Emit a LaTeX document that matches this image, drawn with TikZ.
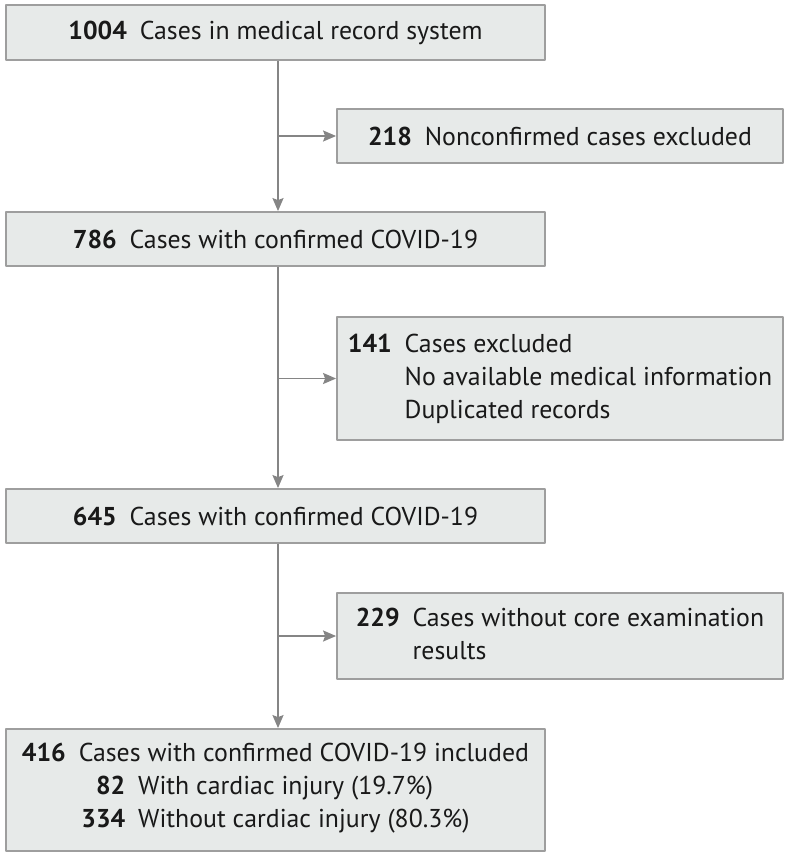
\documentclass[tikz,border=0pt]{standalone}
\usepackage{fontspec}
\setmainfont{PT Sans}
\usepackage{tikz}
\usetikzlibrary{arrows}
\usetikzlibrary{arrows.meta}
\definecolor{wwwwww}{rgb}{0.52,0.52,0.52}
\definecolor{sqsqsq}{rgb}{0.62,0.62,0.62}
\definecolor{eeebea}{rgb}{0.906,0.918,0.914}
\definecolor{qqqqqq}{rgb}{0.1,0.1,0.1}
\begin{document}
\begin{tikzpicture}[line cap=round,line join=round,>={Stealth[length=13pt,width=11pt,inset=2pt]},x=1pt,y=-1pt,
  flowbox/.style={draw=sqsqsq,line width=1.8pt,fill=eeebea,line cap=butt,text=qqqqqq,inner sep=0pt,
    font=\fontsize{25.8}{33}\selectfont},
  mainbox/.style={flowbox,minimum width=539pt},
  sidebox/.style={flowbox,minimum width=446pt,align=left},
  flowline/.style={draw=wwwwww,line width=1.8pt,line cap=butt}]
\useasboundingbox (0,0) rectangle (790,857);
\node[mainbox,minimum height=55pt] (cases) at (275.5,32.5) {\textbf{1004}\hspace{0.5em}Cases in medical record system};
\node[sidebox,minimum height=54pt] (nonconf) at (560,136) {\textbf{218}\hspace{0.5em}Nonconfirmed cases excluded};
\node[mainbox,minimum height=54pt] (confa) at (275.5,239) {\textbf{786}\hspace{0.5em}Cases with confirmed COVID-19};
\node[sidebox,minimum height=123pt] (excl) at (560,378.5) {\begin{tabular}{@{}l@{\hspace{0.5em}}l@{}}
  \textbf{141} & Cases excluded\\ & No available medical information\\ & Duplicated records\end{tabular}};
\node[mainbox,minimum height=54pt] (confb) at (275.5,516) {\textbf{645}\hspace{0.5em}Cases with confirmed COVID-19};
\node[sidebox,minimum height=86pt] (nocore) at (560,636) {\begin{tabular}{@{}l@{\hspace{0.5em}}l@{}}
  \textbf{229} & Cases without core examination\\ & results\end{tabular}};
\node[mainbox,minimum height=122pt,align=center] (incl) at (275.5,790) {\textbf{416}\hspace{0.5em}Cases with confirmed COVID-19 included\\
  \begin{tabular}[t]{@{}r@{\hspace{0.5em}}l@{}}
  \textbf{82} & With cardiac injury (19.7\%)\\ \textbf{334} & Without cardiac injury (80.3\%)\end{tabular}};
% trunk
\coordinate (trunk) at (278,0);
\draw[flowline,->] (cases.south -| trunk) -- (confa.north -| trunk);
\draw[flowline,->] (confa.south -| trunk) -- (confb.north -| trunk);
\draw[flowline,->] (confb.south -| trunk) -- (incl.north -| trunk);
% exclusions
\draw[flowline,->] (nonconf.west -| trunk) -- (nonconf.west);
\draw[flowline,->] (excl.west -| trunk) -- (excl.west);
\draw[flowline,->] (nocore.west -| trunk) -- (nocore.west);
\end{tikzpicture}
\end{document}
